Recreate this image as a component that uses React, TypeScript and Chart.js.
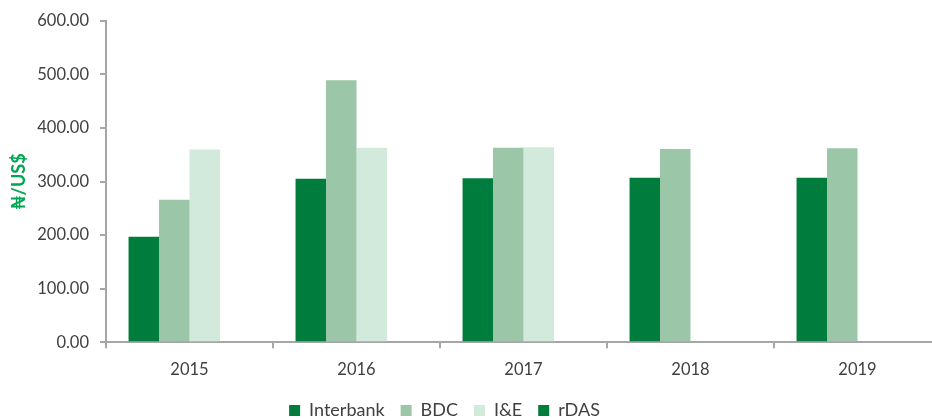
import React, { useEffect, useRef } from 'react';
import { Chart, registerables } from 'chart.js';

Chart.register(...registerables);

const categories = ['2015', '2016', '2017', '2018', '2019'];
const interbank = [197, 305, 306, 307, 307];
const bdc = [266, 489, 363, 361, 362];
const iAndE = [360, 363, 364, null, null];
const rdas = [null, null, null, null, null];
const seriesNames = ['Interbank', 'BDC', 'I&E', 'rDAS'];
const yAxisTitle = '₦/US$';

const FONT = 'Lato, "DejaVu Sans", sans-serif';

export default function App() {
  const ref = useRef<HTMLCanvasElement | null>(null);

  useEffect(() => {
    if (!ref.current) return;
    const legendShift = {
      id: 'legendShift',
      afterLayout(chart: any) {
        const l = chart.legend;
        if (!l) return;
        const d = 444.5 - (l.left + l.right) / 2;
        l.left += d;
        l.right += d;
        l.top -= 5.5;
        l.bottom -= 5.5;
      },
    };
    const chart = new Chart(ref.current, {
      type: 'bar',
      data: {
        labels: categories,
        datasets: [
          { label: seriesNames[0], data: interbank, backgroundColor: '#007D3C' },
          { label: seriesNames[1], data: bdc, backgroundColor: '#9CC6A8' },
          { label: seriesNames[2], data: iAndE, backgroundColor: '#D2EADB' },
          { label: seriesNames[3], data: rdas, backgroundColor: '#007D3C' },
        ],
      },
      plugins: [legendShift],
      options: {
        animation: false,
        responsive: true,
        maintainAspectRatio: false,
        layout: { padding: { left: 0, right: 0, top: 16, bottom: -15 } },
        datasets: { bar: { categoryPercentage: 0.73, barPercentage: 1, borderWidth: 0 } },
        plugins: {
          tooltip: { enabled: false },
          legend: {
            position: 'bottom',
            labels: {
              boxWidth: 11,
              boxHeight: 11,
              padding: 16,
              color: '#404040',
              font: { family: FONT, size: 18 },
            },
          },
        },
        scales: {
          x: {
            grid: {
              offset: true,
              drawOnChartArea: false,
              drawTicks: true,
              tickLength: 6,
              color: '#A6A6A6',
              lineWidth: 2,
            },
            border: { color: '#A6A6A6', width: 2 },
            ticks: {
              color: '#404040',
              padding: 11.5,
              font: { family: FONT, size: 16.5 },
            },
          },
          y: {
            min: 0,
            max: 600,
            afterFit(scale: any) {
              scale.width = 106;
            },
            grid: {
              drawOnChartArea: false,
              drawTicks: true,
              tickLength: 6,
              color: '#A6A6A6',
              lineWidth: 2,
            },
            border: { color: '#A6A6A6', width: 2 },
            ticks: {
              stepSize: 100,
              color: '#404040',
              padding: 11,
              font: { family: FONT, size: 16.5 },
              callback: (v: any) => Number(v).toFixed(2),
            },
            title: {
              display: true,
              text: yAxisTitle,
              color: '#00A651',
              padding: { top: 8, bottom: 0 },
              font: { family: FONT, size: 18, weight: 'bold' },
            },
          },
        },
      },
    });
    return () => chart.destroy();
  }, []);

  return (
    <div
      style={{
        position: 'fixed',
        left: 0,
        top: 0,
        width: 932,
        height: 420,
        overflow: 'hidden',
        background: '#fff',
      }}
    >
      <div style={{ position: 'absolute', left: 0, top: 0, width: 941, height: 420 }}>
        <canvas ref={ref} />
      </div>
    </div>
  );
}
